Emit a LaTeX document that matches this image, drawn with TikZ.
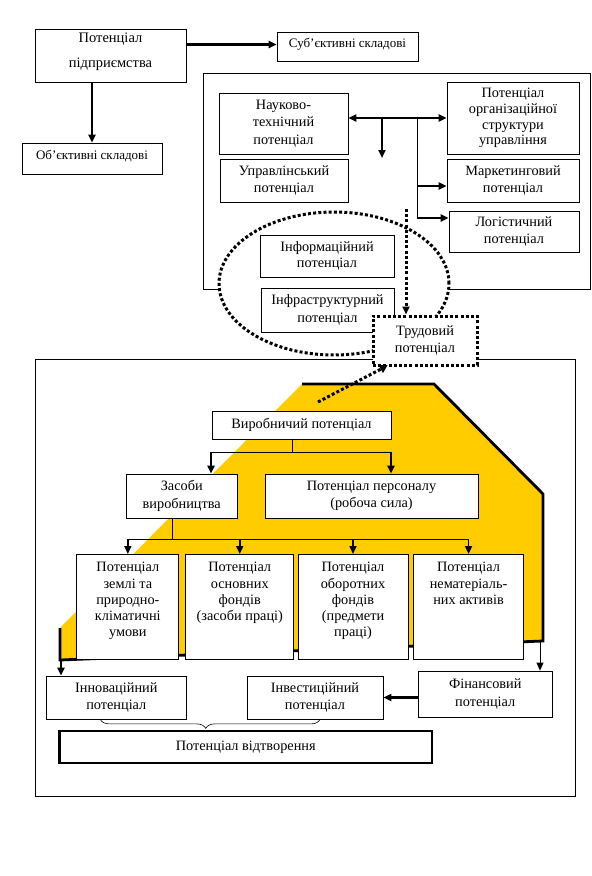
\documentclass[tikz,border=0pt]{standalone}
\usepackage{fontspec}
\setmainfont{Liberation Serif}
\usetikzlibrary{positioning, arrows.meta, decorations.pathreplacing}
\definecolor{gold}{HTML}{FFCC00}
\newcommand\toptext[2]{\parbox[c][95pt][t]{#1}{\centering\vspace*{3pt}#2}}

\begin{document}
\begin{tikzpicture}[x=1pt, y=-1pt, line width=0.8pt,
  box/.style={draw, fill=white, align=center, inner sep=2pt, font=\fontsize{14.3}{17.5}\selectfont},
  tall/.style={box, anchor=north, minimum height=105pt, inner sep=4pt, font=\fontsize{14.3}{16.2}\selectfont},
  dots/.style={line width=3pt, dash pattern=on 3pt off 2.2pt},
  arr/.style={-{Triangle[length=8pt, width=7pt]}},
  fat/.style={line width=2.8pt}]

\useasboundingbox (0,0) rectangle (592,876);

% upper part
\node[box, minimum width=151pt, minimum height=53pt, text depth=11pt, font=\fontsize{14.5}{25}\selectfont] (pp) at (110.5,55.5) {Потенціал\\підприємства};
\node[box, minimum width=141pt, minimum height=29pt, text depth=8pt, font=\fontsize{13}{14}\selectfont] (subj) at (347.5,46.5) {Суб'єктивні складові};
\node[box, minimum width=140pt, minimum height=31pt, text depth=8pt, font=\fontsize{13}{14}\selectfont] (obj) at (92,158.5) {Об'єктивні складові};
\coordinate (p1) at ([yshift=11pt]pp.east);
\draw[arr, line width=2.2pt] (p1) -- (p1 -| subj.west);
\draw[arr, fat] (pp.south -| obj.north) -- (obj.north);

\draw (203,73) rectangle (590,289);
\node[box, minimum width=129pt, minimum height=61pt] (nt) at (283.5,123.5) {Науково-\\технічний\\потенціал};
\node[box, minimum width=132pt, minimum height=72pt, font=\fontsize{14.3}{15.8}\selectfont] (org) at (513,118) {Потенціал\\організаційної\\структури\\управління};
\node[box, minimum width=128pt, minimum height=43pt] (upr) at (284,180.5) {Управлінський\\потенціал};
\node[box, minimum width=132pt, minimum height=43pt] (mark) at (513,180.5) {Маркетинговий\\потенціал};
\node[box, minimum width=130pt, minimum height=41pt] (log) at (514,231.5) {Логістичний\\потенціал};

\draw[{Triangle[length=8pt, width=7pt]}-{Triangle[length=8pt, width=7pt]}, fat] (org.west -| nt.east) -- (org.west);
\coordinate (d1) at (382,118);
\coordinate (d2) at (382,158);
\draw[arr, fat] (d1) -- (d2);
\coordinate (j0) at (417,118);
\coordinate (j1) at (417,186);
\coordinate (j2) at (417,218);
\draw (j0) -- (j2);
\draw[arr, fat] (j1) -- (mark.west |- j1);
\draw[arr, fat] (j2) -- (log.west |- j2);

\draw[dots, fill=white] (334,283.5) ellipse [x radius=115pt, y radius=71.5pt];
\node[box, minimum width=134pt, minimum height=42pt, font=\fontsize{14.3}{16}\selectfont] (inf) at (327,256) {Інформаційний\\потенціал};
\node[box, minimum width=133pt, minimum height=44pt] (infr) at (327.5,310) {Інфраструктурний\\потенціал};

% lower part
\draw (35,359) rectangle (575,796);
\node[box, dots, minimum width=104pt, minimum height=49pt] (trud) at (425,340.5) {Трудовий\\потенціал};
\coordinate (s1) at (406,209);
\draw[dots, arr] (s1) -- (trud.north -| s1);

\fill[gold] (60,628) -- (302,384) -- (434,384) -- (543,494) -- (543,641) -- (60,660) -- cycle;
\draw[fat] (302,384) -- (434,384) -- (543,494) -- (543,641) -- (60,660) -- (60,628);

\coordinate (y1) at (318,402);
\coordinate (t1) at (383,368);
\draw[dots] (y1) -- (t1);
\draw[-{Triangle[length=8pt, width=9pt]}] (383,364) -- (383,373);

\node[box, minimum width=179pt, minimum height=28pt] (vyr) at (301.5,425) {Виробничий потенціал};
\node[box, minimum width=111.5pt, minimum height=44pt] (zas) at (181.75,496) {Засоби\\виробництва};
\node[box, minimum width=213pt, minimum height=44pt] (pers) at (371.5,496) {Потенціал персоналу\\(робоча сила)};

\coordinate (v1) at (292,452);
\coordinate (vl) at (211,452);
\coordinate (vr) at (391,452);
\draw (vyr.south -| v1) -- (v1);
\draw (vl) -- (vr);
\draw[arr, fat] (vl) -- (zas.north -| vl);
\draw[arr, fat] (vr) -- (pers.north -| vr);

\node[tall, minimum width=100.3pt] (b1) at (127.85,554) {\toptext{94pt}{Потенціал\\землі та\\природно-\\кліматичні\\умови}};
\node[tall, minimum width=107.5pt] (b2) at (239.75,554) {\toptext{100pt}{Потенціал\\основних\\фондів\\(засоби праці)}};
\node[tall, minimum width=110pt] (b3) at (353,554) {\toptext{102pt}{Потенціал\\оборотних\\фондів\\(предмети\\праці)}};
\node[tall, minimum width=110pt] (b4) at (468.55,554) {\toptext{102pt}{Потенціал\\нематеріаль-\\них активів}};

\coordinate (z1) at (172,539);
\draw (zas.south -| z1) -- (z1);
\draw (b1.north |- z1) -- (b4.north |- z1);
\foreach \b in {b1,b2,b3,b4}
  \draw[arr, line width=1.6pt] (\b.north |- z1) -- (\b.north);

\node[box, minimum width=139.4pt, minimum height=43pt] (inn) at (116.3,697.5) {Інноваційний\\потенціал};
\node[box, minimum width=136pt, minimum height=43pt] (inv) at (315,697.5) {Інвестиційний\\потенціал};
\node[box, minimum width=133.5pt, minimum height=46pt] (fin) at (485.25,694) {Фінансовий\\потенціал};
\node[box, line width=2.8pt, minimum width=372.5pt, minimum height=32pt] (vidt) at (245.75,747) {Потенціал відтворення};

\coordinate (yl) at (61,660);
\coordinate (yr) at (540,642);
\draw[arr, fat] (yl) -- (inn.north -| yl);
\draw[arr] (yr) -- (fin.north -| yr);
\draw[arr, fat] (fin.west |- inv.east) -- (inv.east);
\draw[decorate, decoration={brace, mirror, amplitude=9pt, aspect=0.48}, line width=0.6pt]
  ([xshift=-16pt]inn.south) -- ([xshift=5pt]inv.south);
\end{tikzpicture}
\end{document}
